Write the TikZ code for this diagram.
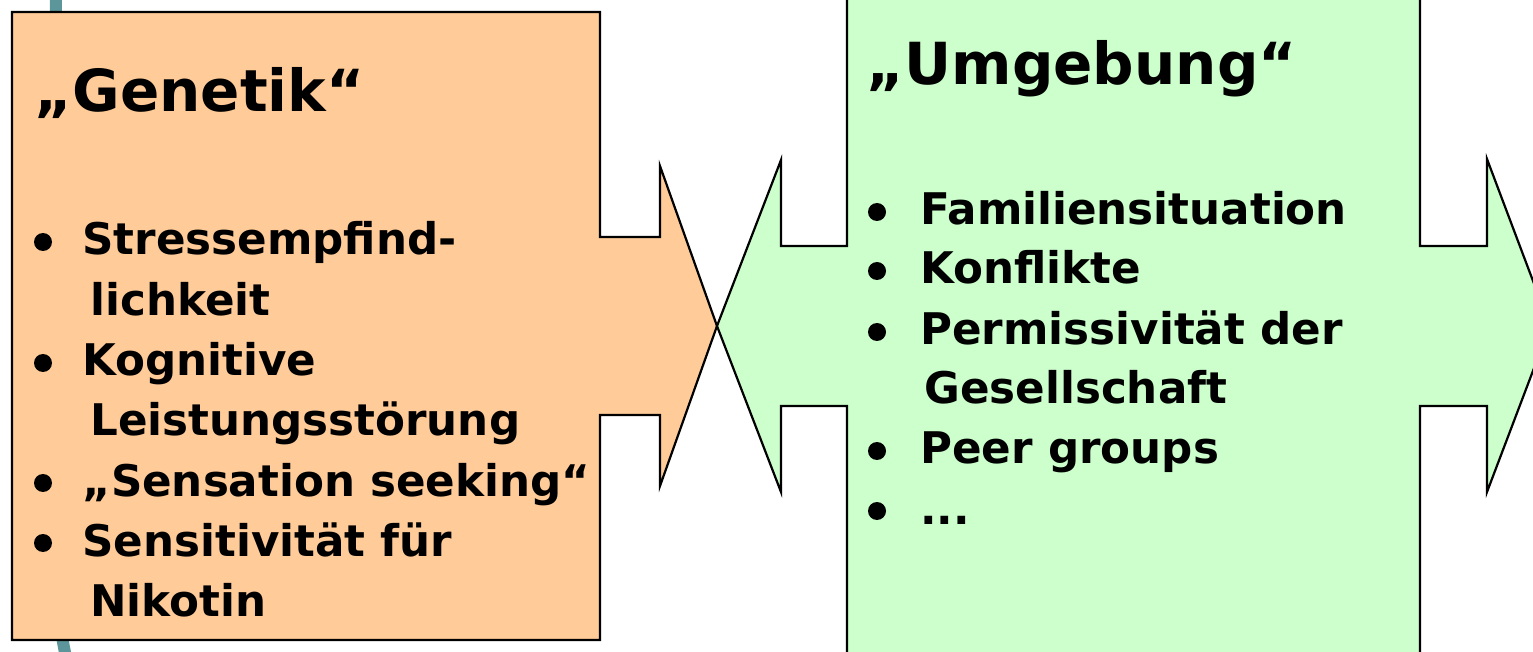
\documentclass[tikz,border=0pt]{standalone}
\usepackage{fontspec}
\setmainfont{DejaVu Sans}
\definecolor{orfill}{RGB}{255,204,153}
\definecolor{grfill}{RGB}{204,255,204}
\definecolor{tealdeco}{RGB}{92,150,154}
\begin{document}
\begin{tikzpicture}[x=0.5pt,y=-0.5pt,
  item/.style={anchor=base west,inner sep=0pt,font=\bfseries\fontsize{21.8pt}{27pt}\selectfont},
  ttl/.style={anchor=base west,inner sep=0pt,font=\bfseries\fontsize{29pt}{34pt}\selectfont},
  bul/.style={circle,fill=black,inner sep=0pt,minimum size=9pt},
  outl/.style={draw=black,line width=1.1pt,line join=miter}]
\useasboundingbox (0,0) rectangle (1533,652);
\clip (0,0) rectangle (1533,652);
% background decoration
\draw[tealdeco,line width=6pt] (56,-10) .. controls (56,300) and (40,560) .. (68,665);
% left arrow box
\draw[outl,fill=orfill] (12,12) -- (600,12) -- (600,237) -- (660,237) -- (660,166)
  -- (717,326) -- (660,486) -- (660,415) -- (600,415) -- (600,640) -- (12,640) -- cycle;
% right double arrow box
\draw[outl,fill=grfill] (847,-10) -- (1420,-10) -- (1420,246) -- (1487,246) -- (1487,159)
  -- (1550,326) -- (1487,492) -- (1487,406) -- (1420,406) -- (1420,665) -- (847,665)
  -- (847,406) -- (781,406) -- (781,492) -- (717,326) -- (781,160) -- (781,246) -- (847,246) -- cycle;
% left texts
\node[ttl] (gt) at (34,112) {„Genetik“};
\node[bul] (gb1) at (43,242) {};
\node[item] (g1) at (82,255) {Stressempfind-};
\node[item] (g1b) at (90,316) {lichkeit};
\node[bul] (gb2) at (43,363) {};
\node[item] (g2) at (82,376) {Kognitive};
\node[item] (g2b) at (90,436) {Leistungsstörung};
\node[bul] (gb3) at (43,483) {};
\node[item] (g3) at (82,496) {„Sensation seeking“};
\node[bul] (gb4) at (43,543) {};
\node[item] (g4) at (82,556) {Sensitivität für};
\node[item] (g4b) at (90,616) {Nikotin};
% right texts
\node[ttl] (ut) at (866,85) {„Umgebung“};
\node[bul] (ub1) at (877,212) {};
\node[item] (u1) at (920,225) {Familiensituation};
\node[bul] (ub2) at (877,271) {};
\node[item] (u2) at (920,284) {Konflikte};
\node[bul] (ub3) at (877,332) {};
\node[item] (u3) at (920,345) {Permissivität der};
\node[item] (u3b) at (924,404) {Gesellschaft};
\node[bul] (ub4) at (877,451) {};
\node[item] (u4) at (920,464) {Peer groups};
\node[bul] (ub5) at (877,511) {};
\node[item] (u5) at (920,524) {...};
\end{tikzpicture}
\end{document}
